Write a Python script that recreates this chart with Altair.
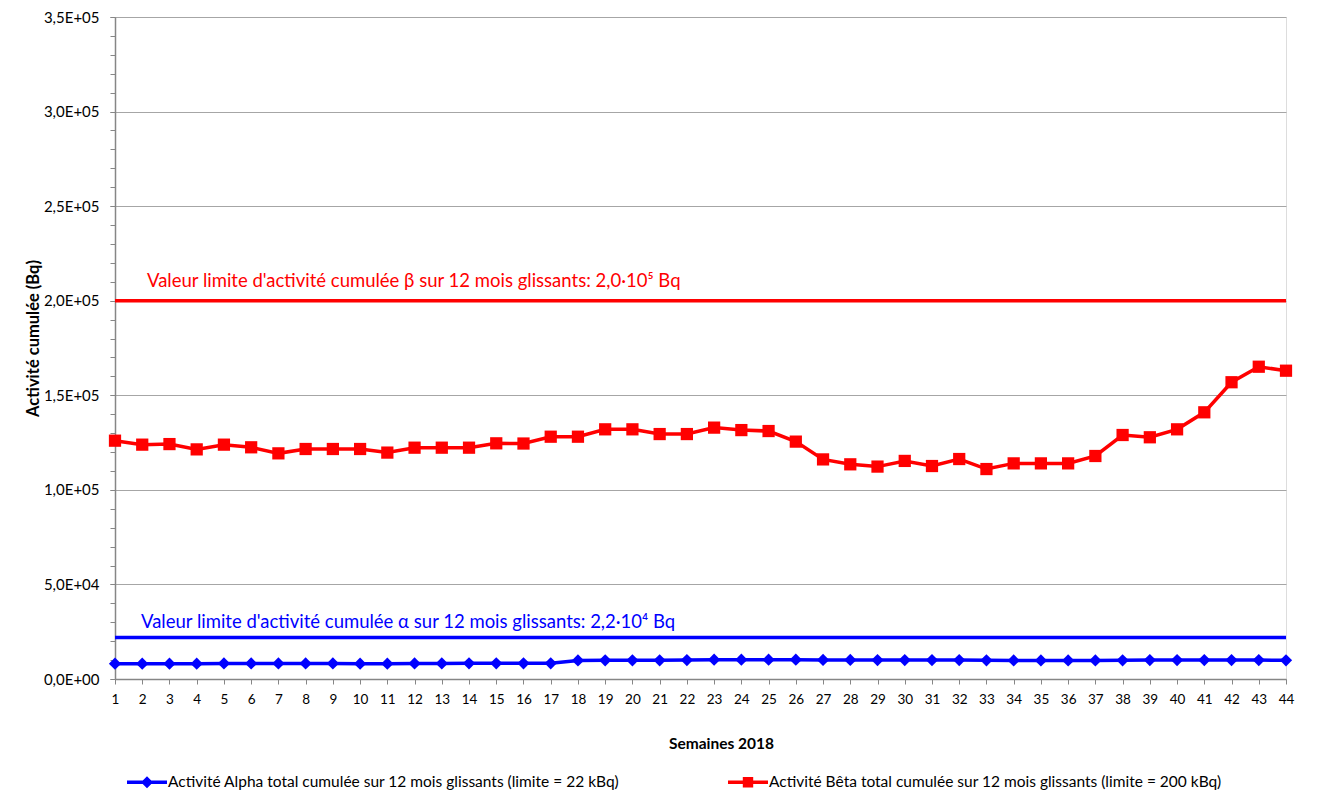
import altair as alt
import pandas as pd

FONT = "Lato"

weeks = list(range(1, 45))
beta = [126000, 123900, 124200, 121400, 123900, 122500, 119300, 121600, 121600, 121600,
        119700, 122300, 122300, 122300, 124600, 124500, 128100, 128100, 132000, 132000,
        129500, 129500, 132900, 131600, 131100, 125500, 116100, 113500, 112300, 115300,
        112600, 116300, 111000, 114000, 114000, 114000, 117900, 129000, 127800, 132000,
        141000, 156900, 165100, 163000]
alpha = [8100, 8100, 8100, 8100, 8200, 8200, 8200, 8200, 8200, 8100,
         8100, 8200, 8200, 8300, 8300, 8300, 8300, 9800, 9900, 9900,
         9900, 10000, 10200, 10200, 10200, 10200, 10100, 10100, 10000, 10000,
         10000, 10000, 9900, 9800, 9800, 9800, 9800, 9900, 10000, 10000,
         10000, 10000, 10000, 9900]

series_alpha = "Activité Alpha total cumulée sur 12 mois glissants (limite = 22 kBq)"
series_beta = "Activité Bêta total cumulée sur 12 mois glissants (limite = 200 kBq)"
series_names = [series_alpha, series_beta]
series_colors = ["#0000FF", "#FF0000"]

limit_alpha = 22000
limit_beta = 200000
note_alpha = "Valeur limite d'activité cumulée α sur 12 mois glissants: 2,2·10⁴ Bq"
note_beta = "Valeur limite d'activité cumulée β sur 12 mois glissants: 2,0·10⁵ Bq"

y_ticks = [0, 50000, 100000, 150000, 200000, 250000, 300000, 350000]
y_tick_labels = ["0,0E+00", "5,0E+04", "1,0E+05", "1,5E+05", "2,0E+05", "2,5E+05", "3,0E+05", "3,5E+05"]
y_minor = list(range(0, 350001, 10000))

x_title = "Semaines 2018"
y_title = "Activité cumulée (Bq)"

# ---- tables
df = pd.DataFrame({
    "week": weeks * 2,
    "value": alpha + beta,
    "series": [series_alpha] * len(weeks) + [series_beta] * len(weeks),
})
df_a = df[df.series == series_alpha]
df_b = df[df.series == series_beta]
df_lim = pd.DataFrame({
    "x": [weeks[0], weeks[0]],
    "x2": [weeks[-1], weeks[-1]],
    "y": [limit_alpha, limit_beta],
    "color": series_colors,
})
df_note_a = pd.DataFrame({"x": [weeks[0]], "y": [limit_alpha], "text": [note_alpha]})
df_note_b = pd.DataFrame({"x": [weeks[0]], "y": [limit_beta], "text": [note_beta]})
df_minor = pd.DataFrame({"y": y_minor})

label_expr = " : ".join(
    f"datum.value == {v} ? '{l}'" for v, l in zip(y_ticks, y_tick_labels)
) + " : ''"

xscale = alt.Scale(domain=[weeks[0], weeks[-1]], nice=False, zero=False)
yscale = alt.Scale(domain=[0, 350000], nice=False)
cscale = alt.Scale(domain=series_names, range=series_colors)

xaxis = alt.Axis(values=weeks, format="d", grid=False, tickSize=5, tickColor="#868686",
                 domainColor="#868686", domainWidth=1.5, labelFont=FONT, labelFontSize=13.5,
                 labelColor="#000000", labelPadding=8, labelFlush=False,
                 titleFont=FONT, titleFontSize=15.5, titleFontWeight="bold", titleColor="#000000",
                 titleY=64, titleX=606, titleBaseline="middle", titleAlign="center")
yaxis = alt.Axis(values=y_ticks, labelExpr=label_expr, grid=True, gridColor="#A6A6A6",
                 gridWidth=1, tickSize=5, tickColor="#868686", domainColor="#868686",
                 domainWidth=1.5, labelFont=FONT, labelFontSize=15, labelColor="#000000",
                 labelPadding=11, titleFont=FONT, titleFontSize=16.5, titleFontWeight="bold",
                 titleColor="#000000", titleX=-82, titleY=321, titleAngle=-90,
                 titleAlign="center", titleBaseline="middle")
minor_axis = alt.Axis(values=y_minor, labels=False, grid=False, domain=False, tickSize=5,
                      tickColor="#868686", orient="left", title=None)

# legend symbols: a line segment with the series marker
path_a = "M-1,-0.09L1,-0.09L1,0.09L-1,0.09Z M0,-0.3L0.3,0L0,0.3L-0.3,0Z"
path_b = "M-1,-0.09L1,-0.09L1,0.09L-1,0.09Z M-0.26,-0.26L0.26,-0.26L0.26,0.26L-0.26,0.26Z"

legend = alt.Legend(
    orient="none", legendX=12, legendY=745, direction="horizontal", columns=2,
    title=None, symbolSize=1600, labelFont=FONT, labelFontSize=15.5,
    labelColor="#000000", labelOffset=1, columnPadding=108, labelLimit=800,
    symbolOpacity=1, symbolStrokeWidth=0,
)

x_enc = alt.X("week:Q", scale=xscale, axis=xaxis, title=x_title)
y_enc = alt.Y("value:Q", scale=yscale, axis=yaxis, title=y_title)

line_a = alt.Chart(df_a).mark_line(strokeWidth=3.5, color=series_colors[0]).encode(x=x_enc, y=y_enc)
line_b = alt.Chart(df_b).mark_line(strokeWidth=3.5, color=series_colors[1]).encode(x=x_enc, y=y_enc)
points_a = alt.Chart(df_a).mark_point(filled=True, opacity=1, size=150, shape="diamond",
                                      color=series_colors[0]).encode(x=x_enc, y=y_enc)
points_b = alt.Chart(df_b).mark_point(filled=True, opacity=1, size=150, shape="square",
                                      color=series_colors[1]).encode(x=x_enc, y=y_enc)
legend_layer = alt.Chart(df).mark_point(filled=True, size=0).encode(
    x=x_enc, y=y_enc,
    color=alt.Color("series:N", scale=cscale, legend=legend),
    shape=alt.Shape("series:N", scale=alt.Scale(domain=series_names, range=[path_a, path_b]),
                    legend=legend),
)
rules = alt.Chart(df_lim).mark_rule(strokeWidth=3.5).encode(
    x=alt.X("x:Q", scale=xscale, axis=xaxis, title=x_title),
    x2="x2:Q",
    y=alt.Y("y:Q", scale=yscale, axis=yaxis, title=y_title),
    color=alt.Color("color:N", scale=None),
)
note_a = alt.Chart(df_note_a).mark_text(align="left", baseline="alphabetic", dx=26, dy=-9,
                                        font=FONT, fontSize=18.5, color="#0000FF").encode(
    x=alt.X("x:Q", scale=xscale, axis=xaxis, title=x_title),
    y=alt.Y("y:Q", scale=yscale, axis=yaxis, title=y_title),
    text="text:N",
)
note_b = alt.Chart(df_note_b).mark_text(align="left", baseline="alphabetic", dx=32, dy=-14,
                                        font=FONT, fontSize=18.5, color="#FF0000").encode(
    x=alt.X("x:Q", scale=xscale, axis=xaxis, title=x_title),
    y=alt.Y("y:Q", scale=yscale, axis=yaxis, title=y_title),
    text="text:N",
)

main = alt.layer(rules, line_a, line_b, points_a, points_b, legend_layer, note_a, note_b)
minor = alt.Chart(df_minor).mark_tick(opacity=0).encode(
    y=alt.Y("y:Q", scale=yscale, axis=minor_axis),
)

chart = alt.layer(main, minor).resolve_axis(y="independent").properties(
    width=1171, height=662,
    autosize=alt.AutoSizeParams(type="none"),
    padding={"left": 107, "top": 9, "right": 38, "bottom": 113},
).configure_view(stroke=None).configure(background="white")

chart.save("out.html", embed_options={"renderer": "svg", "actions": False})
